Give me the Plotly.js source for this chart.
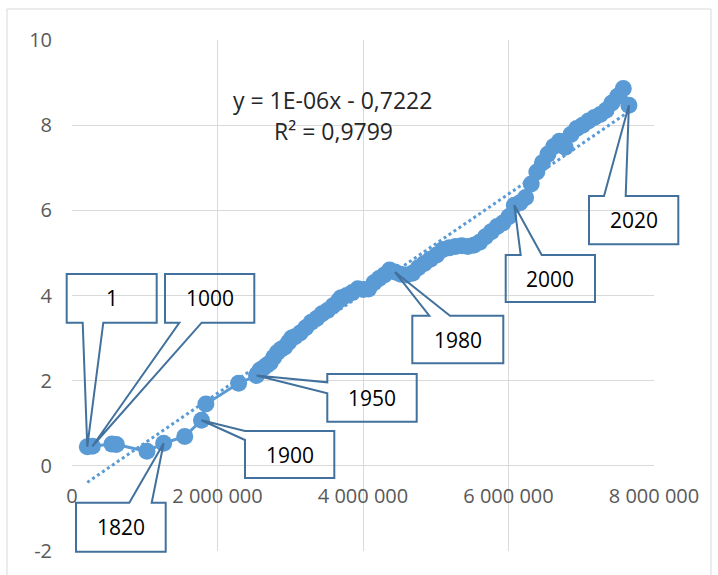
<!DOCTYPE html>
<html>
<head>
<meta charset="utf-8">
<script src="https://cdn.plot.ly/plotly-3.0.1.min.js"></script>
<style>html,body{margin:0;padding:0;background:#fff;}#chart{width:718px;height:575px;}</style>
</head>
<body>
<div id="chart"></div>
<script>
// ---- data ----
const years = [1, 1000, 1500, 1600, 1700, 1820, 1870, 1900, 1913, 1940,
  1950, 1951, 1952, 1953, 1954, 1955, 1956, 1957, 1958, 1959,
  1960, 1961, 1962, 1963, 1964, 1965, 1966, 1967, 1968, 1969,
  1970, 1971, 1972, 1973, 1974, 1975, 1976, 1977, 1978, 1979,
  1980, 1981, 1982, 1983, 1984, 1985, 1986, 1987, 1988, 1989,
  1990, 1991, 1992, 1993, 1994, 1995, 1996, 1997, 1998, 1999,
  2000, 2001, 2002, 2003, 2004, 2005, 2006, 2007, 2008, 2009,
  2010, 2011, 2012, 2013, 2014, 2015, 2016, 2017, 2018, 2019, 2020];
const xValues = [210000, 280000, 550000, 610000, 1030000, 1260000, 1550000, 1780000, 1840000, 2290000,
  2536000, 2584000, 2630000, 2677000, 2724000, 2773000, 2822000, 2873000, 2925000, 2977000,
  3019000, 3064000, 3136000, 3212000, 3288000, 3362000, 3436000, 3511000, 3588000, 3666000,
  3700000, 3776000, 3853000, 3929000, 4004000, 4077000, 4150000, 4221000, 4293000, 4366000,
  4440000, 4518000, 4598000, 4679000, 4760000, 4842000, 4926000, 5012000, 5099000, 5186000,
  5273000, 5357000, 5440000, 5521000, 5602000, 5683000, 5764000, 5844000, 5924000, 6003000,
  6080000, 6158000, 6235000, 6312000, 6389000, 6466000, 6543000, 6621000, 6700000, 6779000,
  6858000, 6937000, 7018000, 7099000, 7180000, 7261000, 7341000, 7421000, 7500000, 7578000, 7655000];
const yValues = [0.45, 0.46, 0.51, 0.50, 0.34, 0.53, 0.69, 1.07, 1.45, 1.94,
  2.12, 2.25, 2.30, 2.36, 2.42, 2.55, 2.66, 2.74, 2.79, 2.90,
  3.00, 3.03, 3.12, 3.24, 3.37, 3.46, 3.57, 3.65, 3.76, 3.88,
  3.95, 4.00, 4.07, 4.16, 4.14, 4.15, 4.30, 4.40, 4.48, 4.60,
  4.55, 4.50, 4.48, 4.52, 4.65, 4.75, 4.85, 4.95, 5.08, 5.12,
  5.15, 5.17, 5.15, 5.18, 5.25, 5.38, 5.50, 5.62, 5.70, 5.85,
  6.12, 6.18, 6.30, 6.62, 6.90, 7.12, 7.32, 7.50, 7.62, 7.48,
  7.78, 7.92, 8.00, 8.10, 8.18, 8.25, 8.35, 8.52, 8.68, 8.86, 8.47];
const labelledYears = [1, 1000, 1820, 1900, 1950, 1980, 2000, 2020];
const xTickVals = [0, 2000000, 4000000, 6000000, 8000000];
const xTickText = ['0', '2 000 000', '4 000 000', '6 000 000', '8 000 000'];
const yTickVals = [-2, 0, 2, 4, 6, 8, 10];
const yTickText = ['-2', '0', '2', '4', '6', '8', '10'];
const equationText = 'y = 1E-06x - 0,7222';
const r2Text = 'R² = 0,9799';

// ---- layout geometry ----
const W = 718, H = 575;
const M = {l: 72, r: 64, t: 40, b: 24};
const PW = W - M.l - M.r, PH = H - M.t - M.b;
const X_RANGE = [0, 8000000], Y_RANGE = [-2, 10];
function pxX(px) { return (px - M.l) / PW; }          // pixel -> paper
function pxY(py) { return (H - M.b - py) / PH; }
function dataX(x) { return (x - X_RANGE[0]) / (X_RANGE[1] - X_RANGE[0]); } // data -> paper
function dataY(y) { return (y - Y_RANGE[0]) / (Y_RANGE[1] - Y_RANGE[0]); }

// ---- trendline (least squares on the data) ----
const n = xValues.length;
let sx = 0, sy = 0, sxx = 0, sxy = 0;
for (let i = 0; i < n; i++) { sx += xValues[i]; sy += yValues[i]; sxx += xValues[i]*xValues[i]; sxy += xValues[i]*yValues[i]; }
const slope = (n*sxy - sx*sy) / (n*sxx - sx*sx);
const intercept = (sy - slope*sx) / n;
const xMin = Math.min(...xValues), xMax = Math.max(...xValues);

const blue = '#5B9BD5';
const traces = [
  {x: [xMin, xMax], y: [slope*xMin + intercept, slope*xMax + intercept], mode: 'lines',
   line: {color: blue, width: 3, dash: 'dot'}, hoverinfo: 'skip'},
  {x: xValues, y: yValues, mode: 'lines+markers',
   line: {color: blue, width: 3}, marker: {color: blue, size: 17}}
];

// ---- callouts (box in pixels, pointer to the data point) ----
const callouts = [
  {year: 1,    box: [66.7, 274, 156.7, 322.7], side: 'bottom', a: 82.7, b: 103.3},
  {year: 1000, box: [165, 274, 254.3, 322.7],  side: 'bottom', a: 179.3, b: 201.7},
  {year: 1820, box: [76, 502.7, 165.7, 551.7], side: 'top',    a: 129.3, b: 151.7},
  {year: 1900, box: [245, 431, 334.3, 478],    side: 'left',   a: 431, b: 440},
  {year: 1950, box: [327.3, 374, 416.7, 421.7], side: 'left',  a: 382.3, b: 393.3},
  {year: 1980, box: [412.3, 315.7, 503.3, 363.3], side: 'top', a: 429.3, b: 450},
  {year: 2000, box: [505.7, 255, 595, 302],    side: 'top',    a: 520.7, b: 541.7},
  {year: 2020, box: [589, 196, 678.3, 244.3],  side: 'top',    a: 604, b: 625.7}
];
const shapes = [];
const annotations = [];
callouts.forEach(c => {
  const idx = years.indexOf(c.year);
  const tx = dataX(xValues[idx]), ty = dataY(yValues[idx]);
  const [x0, y0, x1, y1] = c.box;
  const P = (px, py) => pxX(px).toFixed(5) + ',' + pxY(py).toFixed(5);
  const T = tx.toFixed(5) + ',' + ty.toFixed(5);
  let d;
  if (c.side === 'bottom') {
    d = 'M' + P(x0,y0) + ' L' + P(x1,y0) + ' L' + P(x1,y1) + ' L' + P(c.b,y1) + ' L' + T + ' L' + P(c.a,y1) + ' L' + P(x0,y1) + ' Z';
  } else if (c.side === 'top') {
    d = 'M' + P(x0,y0) + ' L' + P(c.a,y0) + ' L' + T + ' L' + P(c.b,y0) + ' L' + P(x1,y0) + ' L' + P(x1,y1) + ' L' + P(x0,y1) + ' Z';
  } else {
    d = 'M' + P(x0,y0) + ' L' + P(x1,y0) + ' L' + P(x1,y1) + ' L' + P(x0,y1) + ' L' + P(x0,c.b) + ' L' + T + ' L' + P(x0,c.a) + ' Z';
  }
  shapes.push({type: 'path', xref: 'paper', yref: 'paper', path: d,
    line: {color: '#41719C', width: 2}, fillcolor: 'rgba(0,0,0,0)', layer: 'above'});
  annotations.push({xref: 'paper', yref: 'paper', x: pxX((x0+x1)/2), y: pxY((y0+y1)/2),
    text: String(c.year), showarrow: false, xanchor: 'center', yanchor: 'middle',
    font: {family: 'Open Sans', size: 21, color: '#000000'}});
});
annotations.push({xref: 'paper', yref: 'paper', x: pxX(332), y: pxY(100), text: equationText,
  showarrow: false, xanchor: 'center', yanchor: 'middle', font: {family: 'Open Sans', size: 23, color: '#262626'}});
annotations.push({xref: 'paper', yref: 'paper', x: pxX(333), y: pxY(131), text: r2Text,
  showarrow: false, xanchor: 'center', yanchor: 'middle', font: {family: 'Open Sans', size: 23, color: '#262626'}});
// chart border
shapes.push({type: 'rect', xref: 'paper', yref: 'paper', x0: pxX(7), x1: pxX(711), y0: pxY(9), y1: pxY(590),
  line: {color: '#D9D9D9', width: 1}, fillcolor: 'rgba(0,0,0,0)', layer: 'below'});

const layout = {
  width: W, height: H, margin: M,
  paper_bgcolor: '#ffffff', plot_bgcolor: '#ffffff', showlegend: false,
  font: {family: 'Open Sans', color: '#595959', size: 20},
  xaxis: {range: X_RANGE, tickmode: 'array', tickvals: xTickVals, ticktext: xTickText,
    showgrid: true, gridcolor: '#D9D9D9', gridwidth: 1, zeroline: false, showline: false,
    ticks: '', anchor: 'free', position: dataY(0), ticklabelstandoff: 16,
    tickfont: {family: 'Open Sans', size: 20, color: '#595959'}},
  yaxis: {range: Y_RANGE, tickmode: 'array', tickvals: yTickVals, ticktext: yTickText,
    showgrid: true, gridcolor: '#D9D9D9', gridwidth: 1, zeroline: false, showline: false,
    ticks: '', ticklabelstandoff: 19,
    tickfont: {family: 'Open Sans', size: 20, color: '#595959'}},
  shapes: shapes, annotations: annotations
};
Plotly.newPlot('chart', traces, layout, {displayModeBar: false, staticPlot: true});
</script>
</body>
</html>
